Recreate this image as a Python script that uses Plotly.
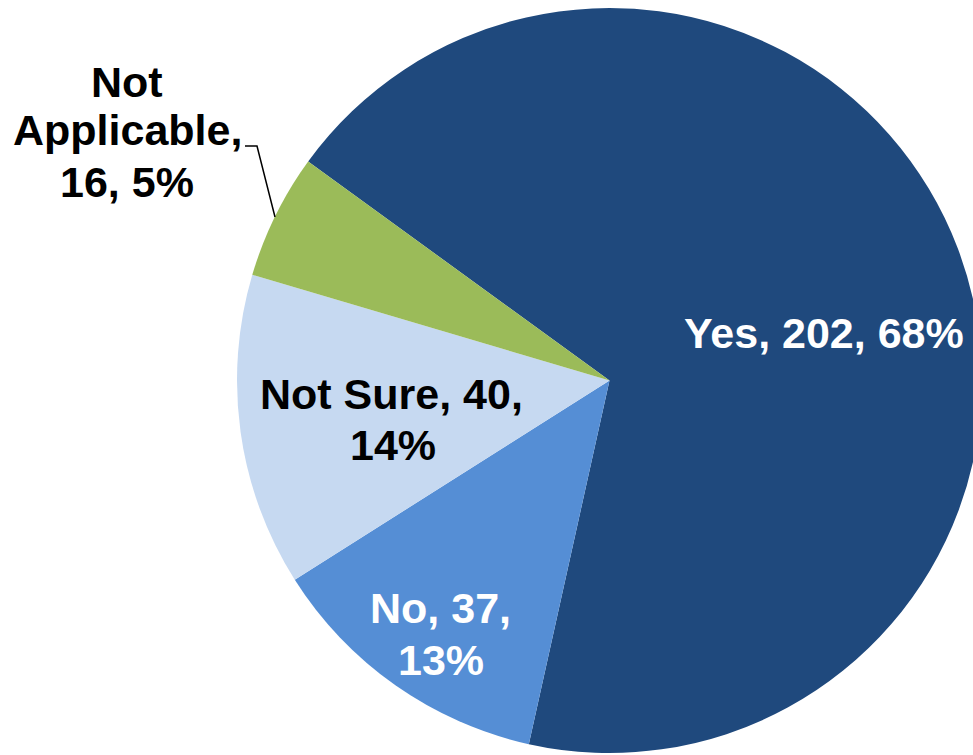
import plotly.graph_objects as go

categories = ["Yes", "No", "Not Sure", "Not Applicable"]
counts = [202, 37, 40, 16]
slice_colors = ["#1F497D", "#558ED5", "#C6D9F1", "#9BBB59"]
label_colors = ["white", "white", "black", "black"]

total = sum(counts)
pcts = [round(100 * c / total) for c in counts]

W, H = 1000, 755

fig = go.Figure(go.Pie(
    labels=categories,
    values=counts,
    sort=False,
    direction="clockwise",
    rotation=-54,
    marker=dict(colors=slice_colors, line=dict(width=0)),
    textinfo="none",
    hoverinfo="label+value+percent",
    showlegend=False,
    domain=dict(x=[237 / W, 982 / W], y=[2 / H, 747 / H]),
))

# label lines (text from data) and their centre positions in pixels
label_lines = [
    [f"{categories[0]}, {counts[0]}, {pcts[0]}%"],
    [f"{categories[1]}, {counts[1]},", f"{pcts[1]}%"],
    [f"{categories[2]}, {counts[2]},", f"{pcts[2]}%"],
    ["Not", "Applicable,", f"{counts[3]}, {pcts[3]}%"],
]
label_pos = [
    [(824, 333)],
    [(440, 608), (441, 660)],
    [(391, 394), (393, 445)],
    [(127, 82), (127, 130), (127, 182)],
]

for lines, poss, c in zip(label_lines, label_pos, label_colors):
    for t, (px, py) in zip(lines, poss):
        fig.add_annotation(
            x=px / W, y=1 - py / H, xref="paper", yref="paper",
            text=f"<b>{t}</b>", showarrow=False,
            font=dict(family="Arial, Liberation Sans, sans-serif", size=43, color=c),
            xanchor="center", yanchor="middle", align="center",
        )

# leader line for the outside label
fig.add_shape(
    type="path", xref="paper", yref="paper",
    path=f"M {245 / W} {1 - 146 / H} L {257 / W} {1 - 146 / H} L {275 / W} {1 - 217 / H}",
    line=dict(color="black", width=1.5),
)

fig.update_layout(
    width=W, height=H,
    margin=dict(l=0, r=0, t=0, b=0),
    paper_bgcolor="white",
    plot_bgcolor="white",
)

fig.write_html(
    "out.html",
    config={"displayModeBar": False},
    post_script="document.body.style.margin='0';document.body.style.overflow='hidden';",
)
